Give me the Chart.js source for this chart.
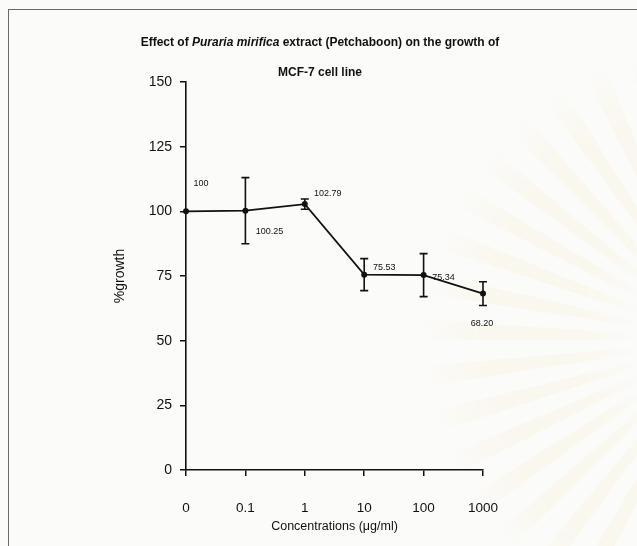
<!DOCTYPE html>
<html>
<head>
<meta charset="utf-8">
<title>%growth of MCF-7</title>
<script src="https://cdn.jsdelivr.net/npm/chart.js@4.4.1/dist/chart.umd.min.js"></script>
<style>
html, body { margin: 0; padding: 0; background: #fbfbfa; }
#wrap { position: relative; width: 637px; height: 546px; overflow: hidden; }
#frame {
    position: absolute; left: 8px; top: 9px; right: -4px; bottom: -4px;
    border-left: 1.5px solid #6a6a6a; border-top: 1.5px solid #6a6a6a;
}
#rays {
    position: absolute; left: 420px; top: 40px; width: 600px; height: 600px;
    background: repeating-conic-gradient(from 0deg at 50% 50%, rgba(248, 238, 200, 0.45) 0deg 4deg, rgba(255, 255, 255, 0) 4deg 9deg);
    -webkit-mask-image: radial-gradient(circle at 50% 50%, transparent 0 80px, rgba(0,0,0,0.5) 140px 240px, transparent 300px);
    mask-image: radial-gradient(circle at 50% 50%, transparent 0 80px, rgba(0,0,0,0.5) 140px 240px, transparent 300px);
}
canvas { position: absolute; left: 0; top: 0; }
</style>
</head>
<body>
<div id="wrap">
    <div id="rays"></div>
    <div id="frame"></div>
    <canvas id="growthChart" width="637" height="546"></canvas>
</div>
<script>
const concentrations = ['0', '0.1', '1', '10', '100', '1000'];
const growth = [100, 100.25, 102.79, 75.53, 75.34, 68.20];
const growthSD = [0, 12.8, 2.0, 6.2, 8.3, 4.6];
const growthLabels = ['100', '100.25', '102.79', '75.53', '75.34', '68.20'];
const yTicks = [0, 25, 50, 75, 100, 125, 150];

// where each value label sits, relative to its point
const labelOffsets = [[15, -28], [24, 21], [23, -11], [20, -7], [20, 2], [-1, 30]];

const ink = '#111';
const sans = 'Arial, "Liberation Sans", sans-serif';

// two-line heading, the plant name in italics
const headingPlugin = {
    id: 'heading',
    afterDraw(chart) {
        const ctx = chart.ctx;
        ctx.save();
        ctx.fillStyle = ink;
        ctx.textBaseline = 'middle';
        const parts = [
            ['Effect of ', 'bold'],
            ['Puraria mirifica', 'italic bold'],
            [' extract (Petchaboon) on the growth of', 'bold']
        ];
        let total = 0;
        parts.forEach(p => {
            ctx.font = p[1] + ' 12px ' + sans;
            total += ctx.measureText(p[0]).width;
        });
        let x = 320 - total / 2;
        ctx.textAlign = 'left';
        parts.forEach(p => {
            ctx.font = p[1] + ' 12px ' + sans;
            ctx.fillText(p[0], x, 43);
            x += ctx.measureText(p[0]).width;
        });
        ctx.font = 'bold 12px ' + sans;
        ctx.textAlign = 'center';
        ctx.fillText('MCF-7 cell line', 320, 73);
        ctx.restore();
    }
};

// SD bars and value labels
const errorBarPlugin = {
    id: 'errorBars',
    afterDatasetsDraw(chart) {
        const ctx = chart.ctx;
        const xs = chart.scales.x, ys = chart.scales.y;
        ctx.save();
        ctx.strokeStyle = ink;
        ctx.lineWidth = 1.6;
        growth.forEach((v, i) => {
            if (!growthSD[i]) return;
            const x = xs.getPixelForValue(i);
            const top = ys.getPixelForValue(v + growthSD[i]);
            const bot = ys.getPixelForValue(v - growthSD[i]);
            ctx.beginPath();
            ctx.moveTo(x, top); ctx.lineTo(x, bot);
            ctx.moveTo(x - 4, top); ctx.lineTo(x + 4, top);
            ctx.moveTo(x - 4, bot); ctx.lineTo(x + 4, bot);
            ctx.stroke();
        });
        ctx.fillStyle = ink;
        ctx.font = '9px ' + sans;
        ctx.textAlign = 'center';
        ctx.textBaseline = 'middle';
        growth.forEach((v, i) => {
            const x = xs.getPixelForValue(i);
            const y = ys.getPixelForValue(v);
            ctx.fillText(growthLabels[i], x + labelOffsets[i][0], y + labelOffsets[i][1]);
        });
        ctx.restore();
    }
};

const ctx = document.getElementById('growthChart').getContext('2d');
const growthChart = new Chart(ctx, {
    type: 'line',
    data: {
        labels: concentrations,
        datasets: [{
            label: '%growth',
            data: growth,
            borderColor: ink,
            borderWidth: 1.7,
            backgroundColor: ink,
            pointRadius: 3,
            pointBorderWidth: 0,
            tension: 0,
            fill: false
        }]
    },
    options: {
        responsive: false,
        animation: false,
        devicePixelRatio: 1,
        layout: { padding: { left: 0, right: 154, top: 82, bottom: 0 } },
        plugins: {
            legend: { display: false },
            tooltip: { enabled: false }
        },
        scales: {
            x: {
                type: 'category',
                offset: false,
                grid: { drawOnChartArea: false, drawTicks: true, tickLength: 6, color: ink, lineWidth: 1.5 },
                border: { display: true, color: ink, width: 1.6 },
                ticks: { color: ink, font: { family: sans, size: 13.5 }, padding: 24, maxRotation: 0 },
                title: {
                    display: true,
                    text: 'Concentrations (\u03bcg/ml)',
                    color: ink,
                    font: { family: sans, size: 12.5 },
                    padding: { top: 0, bottom: 12 }
                },
                afterFit(scale) { scale.height = 76; }
            },
            y: {
                min: 0,
                max: 150,
                afterBuildTicks(scale) { scale.ticks = yTicks.map(v => ({ value: v })); },
                grid: { drawOnChartArea: false, drawTicks: true, tickLength: 6, color: ink, lineWidth: 1.5 },
                border: { display: true, color: ink, width: 1.6 },
                ticks: { color: ink, font: { family: sans, size: 14 }, padding: 8 },
                title: {
                    display: true,
                    text: '%growth',
                    color: ink,
                    font: { family: sans, size: 14 },
                    padding: { top: 112, bottom: 0 }
                },
                afterFit(scale) { scale.width = 186; }
            }
        }
    },
    plugins: [headingPlugin, errorBarPlugin]
});
</script>
</body>
</html>
